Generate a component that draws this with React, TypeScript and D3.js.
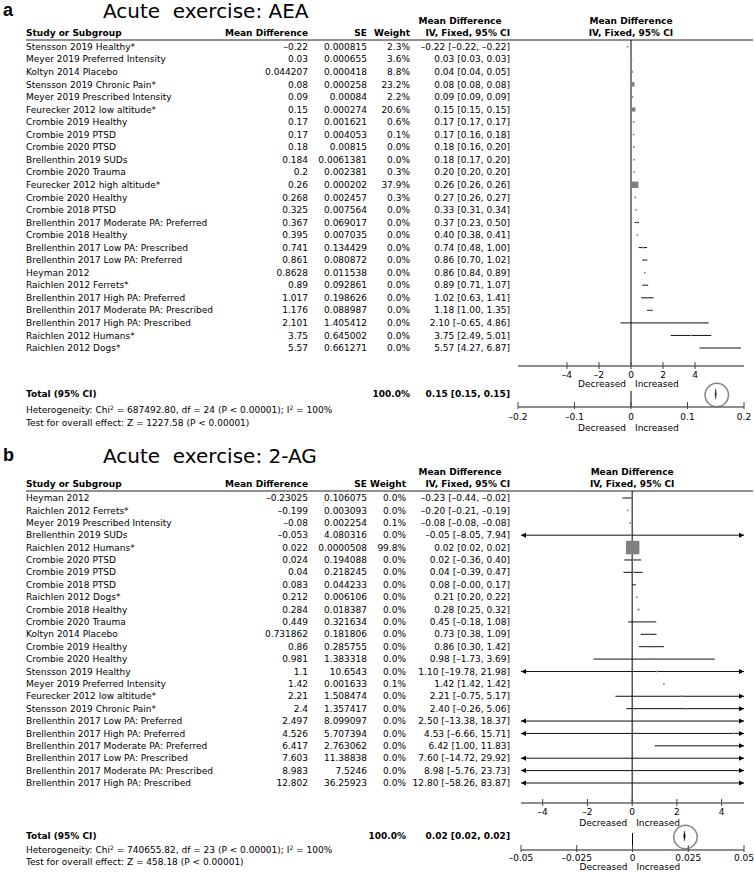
import React from 'react';
import * as d3 from 'd3';

// Panel a: Acute exercise, AEA
const studiesA = [
  'Stensson 2019 Healthy*', 'Meyer 2019 Preferred Intensity', 'Koltyn 2014 Placebo',
  'Stensson 2019 Chronic Pain*', 'Meyer 2019 Prescribed Intensity', 'Feurecker 2012 low altitude*',
  'Crombie 2019 Healthy', 'Crombie 2019 PTSD', 'Crombie 2020 PTSD', 'Brellenthin 2019 SUDs',
  'Crombie 2020 Trauma', 'Feurecker 2012 high altitude*', 'Crombie 2020 Healthy', 'Crombie 2018 PTSD',
  'Brellenthin 2017 Moderate PA: Preferred', 'Crombie 2018 Healthy', 'Brellenthin 2017 Low PA: Prescribed',
  'Brellenthin 2017 Low PA: Preferred', 'Heyman 2012', 'Raichlen 2012 Ferrets*',
  'Brellenthin 2017 High PA: Preferred', 'Brellenthin 2017 Moderate PA: Prescribed',
  'Brellenthin 2017 High PA: Prescribed', 'Raichlen 2012 Humans*', 'Raichlen 2012 Dogs*',
];
const mdA = ['-0.22', '0.03', '0.044207', '0.08', '0.09', '0.15', '0.17', '0.17', '0.18', '0.184', '0.2',
  '0.26', '0.268', '0.325', '0.367', '0.395', '0.741', '0.861', '0.8628', '0.89', '1.017', '1.176',
  '2.101', '3.75', '5.57'];
const seA = ['0.000815', '0.000655', '0.000418', '0.000258', '0.00084', '0.000274', '0.001621', '0.004053',
  '0.00815', '0.0061381', '0.002381', '0.000202', '0.002457', '0.007564', '0.069017', '0.007035',
  '0.134429', '0.080872', '0.011538', '0.092861', '0.198626', '0.088987', '1.405412', '0.645002', '0.661271'];
const weightA = [2.3, 3.6, 8.8, 23.2, 2.2, 20.6, 0.6, 0.1, 0.0, 0.0, 0.3, 37.9, 0.3, 0.0, 0.0, 0.0, 0.0,
  0.0, 0.0, 0.0, 0.0, 0.0, 0.0, 0.0, 0.0];
const ticksA = [-4, -2, 0, 2, 4];
const totalTicksA = [-0.2, -0.1, 0, 0.1, 0.2];
const totalA = { est: 0.15, lo: 0.15, hi: 0.15, label: '0.15 [0.15, 0.15]' };
const hetA = ['687492.80', '24', '100%'];
const testA = 'Test for overall effect: Z = 1227.58 (P < 0.00001)';

// Panel b: Acute exercise, 2-AG
const studiesB = [
  'Heyman 2012', 'Raichlen 2012 Ferrets*', 'Meyer 2019 Prescribed Intensity', 'Brellenthin 2019 SUDs',
  'Raichlen 2012 Humans*', 'Crombie 2020 PTSD', 'Crombie 2019 PTSD', 'Crombie 2018 PTSD',
  'Raichlen 2012 Dogs*', 'Crombie 2018 Healthy', 'Crombie 2020 Trauma', 'Koltyn 2014 Placebo',
  'Crombie 2019 Healthy', 'Crombie 2020 Healthy', 'Stensson 2019 Healthy', 'Meyer 2019 Preferred Intensity',
  'Feurecker 2012 low altitude*', 'Stensson 2019 Chronic Pain*', 'Brellenthin 2017 Low PA: Preferred',
  'Brellenthin 2017 High PA: Preferred', 'Brellenthin 2017 Moderate PA: Preferred',
  'Brellenthin 2017 Low PA: Prescribed', 'Brellenthin 2017 Moderate PA: Prescribed',
  'Brellenthin 2017 High PA: Prescribed',
];
const mdB = ['-0.23025', '-0.199', '-0.08', '-0.053', '0.022', '0.024', '0.04', '0.083', '0.212', '0.284',
  '0.449', '0.731862', '0.86', '0.981', '1.1', '1.42', '2.21', '2.4', '2.497', '4.526', '6.417', '7.603',
  '8.983', '12.802'];
const seB = ['0.106075', '0.003093', '0.002254', '4.080316', '0.0000508', '0.194088', '0.218245', '0.044233',
  '0.006106', '0.018387', '0.321634', '0.181806', '0.285755', '1.383318', '10.6543', '0.001633',
  '1.508474', '1.357417', '8.099097', '5.707394', '2.763062', '11.38838', '7.5246', '36.25923'];
const weightB = [0.0, 0.0, 0.1, 0.0, 99.8, 0.0, 0.0, 0.0, 0.0, 0.0, 0.0, 0.0, 0.0, 0.0, 0.0, 0.1, 0.0, 0.0,
  0.0, 0.0, 0.0, 0.0, 0.0, 0.0];
const ticksB = [-4, -2, 0, 2, 4];
const totalTicksB = [-0.05, -0.025, 0, 0.025, 0.05];
const totalB = { est: 0.0233, lo: 0.0232, hi: 0.0234, label: '0.02 [0.02, 0.02]' };
const hetB = ['740655.82', '23', '100%'];
const testB = 'Test for overall effect: Z = 458.18 (P < 0.00001)';

const FONT = 'DejaVu Sans';
const FS = 9;
const Z = 1.959964;
const minus = (s: string) => s.replace(/-/g, '\u2013');
const f2 = (v: number) => minus(v.toFixed(2));

type Layout = {
  top: number; titleY: number; weightX: number; rows: [number, number];
  axisGap: number; decGap: number; totalGap: number; hetGap: number; testGap: number;
  axis2Gap: number; tick2Gap: number; dec2Gap: number;
};

type PanelProps = {
  letter: string; title: string; lay: Layout;
  studies: string[]; md: string[]; se: string[]; weight: number[];
  domain: [number, number]; xRange: [number, number]; ticks: number[];
  totalDomain: [number, number]; totalTicks: number[];
  total: { est: number; lo: number; hi: number; label: string };
  het: string[]; test: string;
};

function Panel(p: PanelProps) {
  const L = p.lay;
  const x = d3.scaleLinear().domain(p.domain).range(p.xRange);
  const x2 = d3.scaleLinear().domain(p.totalDomain).range(p.xRange);
  const y = d3.scaleLinear().domain([0, p.studies.length - 1]).range(L.rows);
  const size = (w: number) => Math.max(1.6, 0.427 * Math.pow(w, 0.75));
  const t = L.top;
  const ruleY = t + 40;
  const axisY = L.rows[1] + L.axisGap;
  const totalY = axisY + L.totalGap;
  const axis2Y = totalY + L.axis2Gap;
  const zero = x(0);
  const [xMin, xMax] = p.xRange;
  const fmtTick = (v: number) => minus(String(v));

  return (
    <g fontFamily={FONT} fontSize={FS} fill="#000">
      <text x={3} y={L.titleY - 2} fontFamily="Liberation Sans" fontWeight="bold" fontSize={18}>{p.letter}</text>
      <text x={103} y={L.titleY} fontSize={20} style={{ whiteSpace: 'pre' }}>{p.title}</text>

      {/* header */}
      <g fontWeight="bold">
        <text x={26} y={t + 33} dy="0.35em">Study or Subgroup</text>
        <text x={308} y={t + 33} dy="0.35em" textAnchor="end">Mean Difference</text>
        <text x={367} y={t + 33} dy="0.35em" textAnchor="end">SE</text>
        <text x={L.weightX} y={t + 33} dy="0.35em" textAnchor="end">Weight</text>
        <text x={460} y={t + 21} dy="0.35em" textAnchor="middle">Mean Difference</text>
        <text x={510} y={t + 33} dy="0.35em" textAnchor="end">IV, Fixed, 95% CI</text>
        <text x={zero} y={t + 21} dy="0.35em" textAnchor="middle">Mean Difference</text>
        <text x={zero} y={t + 33} dy="0.35em" textAnchor="middle">IV, Fixed, 95% CI</text>
      </g>
      <line x1={26} x2={753} y1={ruleY} y2={ruleY} stroke="#222" strokeWidth={1} />
      <line x1={zero} x2={zero} y1={ruleY} y2={axisY} stroke="#000" strokeWidth={1} />

      {/* study rows */}
      {p.studies.map((s, i) => {
        const m = +p.md[i];
        const e = +p.se[i];
        const lo = m - Z * e;
        const hi = m + Z * e;
        const yy = y(i);
        const xl = Math.max(xMin, x(lo));
        const xh = Math.min(xMax, x(hi));
        const sz = size(p.weight[i]);
        return (
          <g key={i}>
            <text x={26} y={yy} dy="0.35em">{s}</text>
            <text x={308} y={yy} dy="0.35em" textAnchor="end">{minus(p.md[i])}</text>
            <text x={367} y={yy} dy="0.35em" textAnchor="end">{p.se[i]}</text>
            <text x={L.weightX} y={yy} dy="0.35em" textAnchor="end">{p.weight[i].toFixed(1)}%</text>
            <text x={510} y={yy} dy="0.35em" textAnchor="end">{`${f2(m)} [${f2(lo)}, ${f2(hi)}]`}</text>
            {xh - xl > 1 && <line x1={xl} x2={xh} y1={yy} y2={yy} stroke="#111" strokeWidth={1} />}
            {x(lo) < xMin && <path d={`M${xMin},${yy}L${xMin + 5},${yy - 2.5}L${xMin + 5},${yy + 2.5}Z`} fill="#000" />}
            {x(hi) > xMax && <path d={`M${xMax},${yy}L${xMax - 5},${yy - 2.5}L${xMax - 5},${yy + 2.5}Z`} fill="#000" />}
            {x(m) >= xMin && x(m) <= xMax &&
              <rect x={x(m) - sz / 2} y={yy - sz / 2} width={sz} height={sz} fill="#808080" />}
          </g>
        );
      })}

      {/* main axis */}
      <line x1={xMin} x2={xMax} y1={axisY} y2={axisY} stroke="#666" strokeWidth={1.3} />
      {p.ticks.map(v => (
        <g key={v}>
          <line x1={x(v)} x2={x(v)} y1={axisY - 4} y2={axisY + 3} stroke="#444" strokeWidth={1} />
          <text x={x(v)} y={axisY + 9} dy="0.35em" textAnchor="middle">{fmtTick(v)}</text>
        </g>
      ))}
      <text x={zero - 5} y={axisY + L.decGap} dy="0.35em" textAnchor="end">Decreased</text>
      <text x={zero + 4} y={axisY + L.decGap} dy="0.35em">Increased</text>

      {/* total */}
      <g fontWeight="bold">
        <text x={26} y={totalY} dy="0.35em">Total (95% CI)</text>
        <text x={L.weightX} y={totalY} dy="0.35em" textAnchor="end">100.0%</text>
        <text x={510} y={totalY} dy="0.35em" textAnchor="end">{p.total.label}</text>
      </g>
      <text x={26} y={totalY + L.hetGap} dy="0.35em">
        <tspan>Heterogeneity: Chi</tspan>
        <tspan dy={-3.5} fontSize={6}>2</tspan>
        <tspan dy={3.5}>{` = ${p.het[0]}, df = ${p.het[1]} (P < 0.00001); I`}</tspan>
        <tspan dy={-3.5} fontSize={6}>2</tspan>
        <tspan dy={3.5}>{` = ${p.het[2]}`}</tspan>
      </text>
      <text x={26} y={totalY + L.testGap} dy="0.35em">{p.test}</text>

      <line x1={x2(0)} x2={x2(0)} y1={totalY - 3} y2={axis2Y} stroke="#000" strokeWidth={1} />
      <path
        d={`M${x2(p.total.lo) - 0.6},${totalY}L${x2(p.total.est)},${totalY - 5}L${x2(p.total.hi) + 0.6},${totalY}L${x2(p.total.est)},${totalY + 5}Z`}
        fill="#000" stroke="#333" strokeWidth={0.5}
      />
      <circle cx={x2(p.total.est) + 1} cy={totalY + 1} r={11.7} fill="none" stroke="#888" strokeWidth={1.6} />
      <line x1={xMin} x2={xMax} y1={axis2Y} y2={axis2Y} stroke="#666" strokeWidth={1.3} />
      {p.totalTicks.map(v => (
        <g key={v}>
          <line x1={x2(v)} x2={x2(v)} y1={axis2Y - 5} y2={axis2Y + 2} stroke="#444" strokeWidth={1} />
          <text x={x2(v)} y={axis2Y + L.tick2Gap} dy="0.35em" textAnchor="middle">{fmtTick(v)}</text>
        </g>
      ))}
      <text x={x2(0) - 5} y={axis2Y + L.dec2Gap} dy="0.35em" textAnchor="end">Decreased</text>
      <text x={x2(0) + 4} y={axis2Y + L.dec2Gap} dy="0.35em">Increased</text>
    </g>
  );
}

const layoutA: Layout = {
  top: 0, titleY: 18, weightX: 410, rows: [46.7, 348],
  axisGap: 18, decGap: 18, totalGap: 28, hetGap: 16, testGap: 29,
  axis2Gap: 13, tick2Gap: 10, dec2Gap: 21,
};
const layoutB: Layout = {
  top: 451, titleY: 463, weightX: 406, rows: [498, 783],
  axisGap: 20, decGap: 20, totalGap: 33, hetGap: 14, testGap: 26,
  axis2Gap: 14, tick2Gap: 8, dec2Gap: 17,
};

export default function App() {
  return (
    <div style={{ position: 'absolute', left: 0, top: 0 }}>
      <svg width={754} height={872} style={{ display: 'block', background: '#fff' }}>
        <Panel
          letter="a" title="Acute  exercise: AEA" lay={layoutA}
          studies={studiesA} md={mdA} se={seA} weight={weightA}
          domain={[-7.06, 7.06]} xRange={[518, 744]} ticks={ticksA}
          totalDomain={[-0.2, 0.2]} totalTicks={totalTicksA}
          total={totalA} het={hetA} test={testA}
        />
        <Panel
          letter="b" title="Acute  exercise: 2-AG" lay={layoutB}
          studies={studiesB} md={mdB} se={seB} weight={weightB}
          domain={[-4.97, 5]} xRange={[521, 744]} ticks={ticksB}
          totalDomain={[-0.05, 0.05]} totalTicks={totalTicksB}
          total={totalB} het={hetB} test={testB}
        />
      </svg>
    </div>
  );
}
